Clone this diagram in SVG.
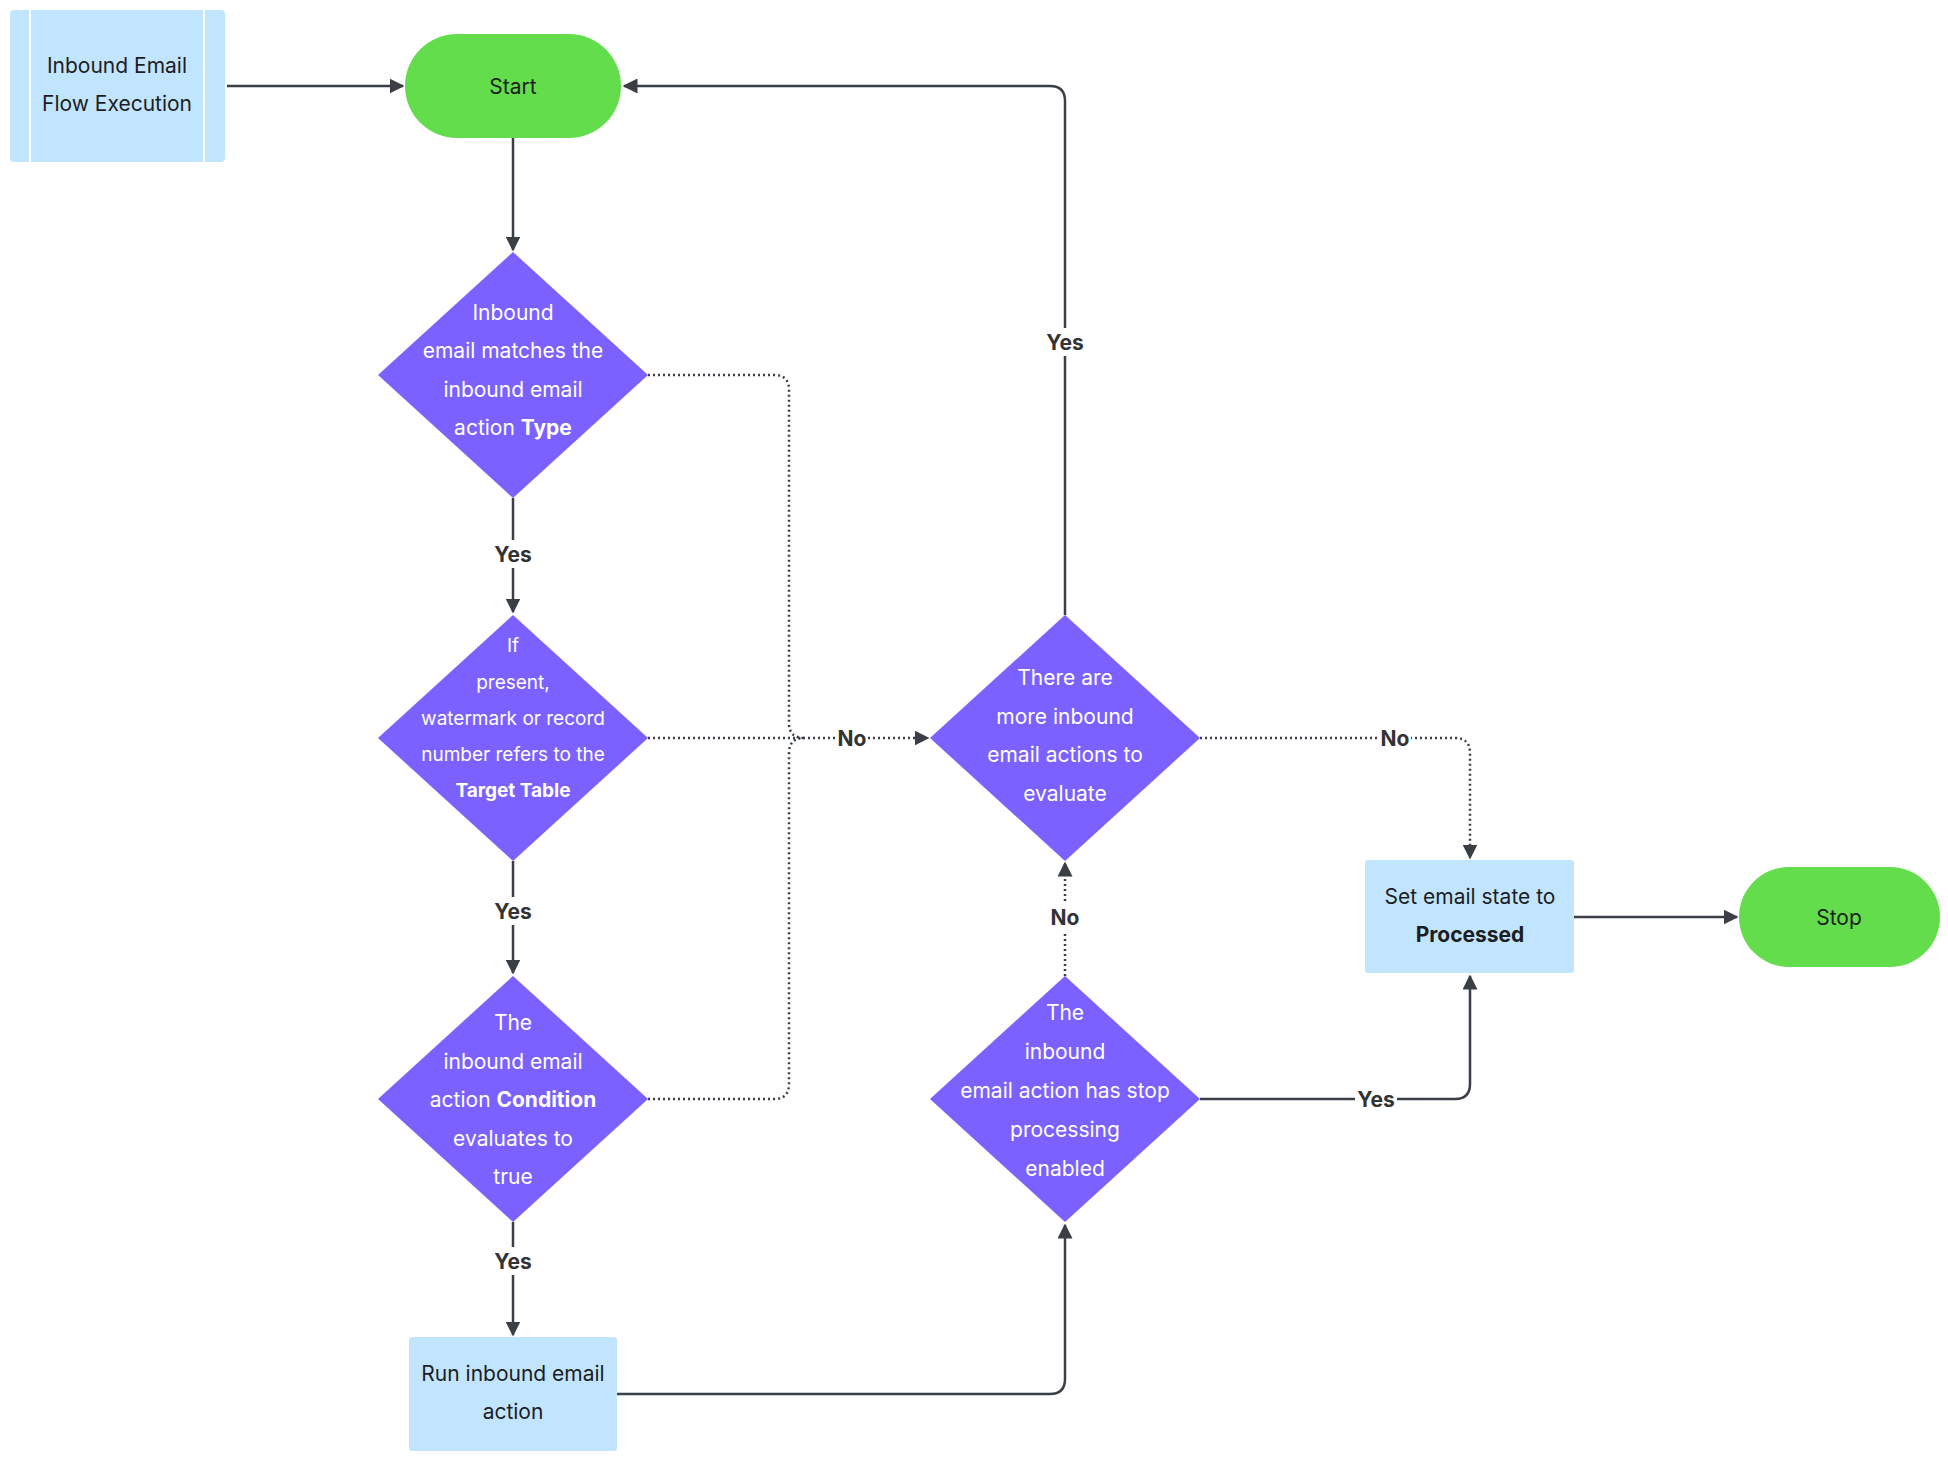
<svg xmlns="http://www.w3.org/2000/svg" width="1948" height="1462" viewBox="0 0 1948 1462">
<style>
text{font-family:Inter,"Liberation Sans",sans-serif;font-size:21px;text-anchor:middle;dominant-baseline:central}
.w{fill:#fff}.d{fill:#1d1d1f}.b{font-weight:700}
.lbl{font-weight:700;fill:#333;font-size:21px}
.c{fill:none;stroke:#3a3f47;stroke-width:2.5}
.dot{stroke-dasharray:2 3}
.dia{fill:#7b61ff}.term{fill:#63dd4c}.box{fill:#c2e5ff}
</style>
<defs><marker id="a" viewBox="0 0 10 10" refX="9" refY="5" markerWidth="6" markerHeight="6" orient="auto"><path d="M0,0L10,5L0,10z" fill="#3a3f47"/></marker></defs>
<g id="connectors">
<path class="c" d="M227,86H403" marker-end="url(#a)"/>
<path class="c" d="M513,138V250" marker-end="url(#a)"/>
<path class="c" d="M513,498V612" marker-end="url(#a)"/>
<path class="c" d="M513,861V973" marker-end="url(#a)"/>
<path class="c" d="M513,1222V1335" marker-end="url(#a)"/>
<path class="c dot" d="M648,375H774Q789,375 789,390V723Q789,738 804,738"/>
<path class="c dot" d="M648,1099H774Q789,1099 789,1084V753Q789,738 804,738"/>
<path class="c dot" d="M648,738H928" marker-end="url(#a)"/>
<path class="c" d="M1065,615V101Q1065,86 1050,86H624" marker-end="url(#a)"/>
<path class="c dot" d="M1200,738H1455Q1470,738 1470,753V858" marker-end="url(#a)"/>
<path class="c dot" d="M1065,976V863" marker-end="url(#a)"/>
<path class="c" d="M1200,1099H1455Q1470,1099 1470,1084V976" marker-end="url(#a)"/>
<path class="c" d="M617,1394H1050Q1065,1394 1065,1379V1225" marker-end="url(#a)"/>
<path class="c" d="M1574,917H1737" marker-end="url(#a)"/>
<g>
<rect x="492" y="540" width="42" height="28" fill="#fff"/><text class="lbl" x="513" y="554">Yes</text>
<rect x="492" y="897" width="42" height="28" fill="#fff"/><text class="lbl" x="513" y="911">Yes</text>
<rect x="492" y="1247" width="42" height="28" fill="#fff"/><text class="lbl" x="513" y="1261">Yes</text>
<rect x="836" y="724" width="32" height="28" fill="#fff"/><text class="lbl" x="852" y="738">No</text>
<rect x="1044" y="328" width="42" height="28" fill="#fff"/><text class="lbl" x="1065" y="342">Yes</text>
<rect x="1379" y="724" width="32" height="28" fill="#fff"/><text class="lbl" x="1395" y="738">No</text>
<rect x="1049" y="903" width="32" height="28" fill="#fff"/><text class="lbl" x="1065" y="917">No</text>
<rect x="1355" y="1085" width="42" height="28" fill="#fff"/><text class="lbl" x="1376" y="1099">Yes</text>
</g>
</g>
<g id="flow-exec"><rect class="box" x="10" y="10" width="215" height="152" rx="4"/><path d="M30,10V162M204,10V162" stroke="#fff" stroke-width="2"/>
<text class="d" x="117" y="65">Inbound Email</text><text class="d" x="117" y="103">Flow Execution</text></g>
<g id="start"><rect class="term" x="405" y="34" width="216" height="104" rx="52"/><text class="d" x="513" y="86">Start</text></g>
<g id="d1"><path class="dia" d="M513,252L648,375L513,498L378,375z"/>
<text class="w" x="513" y="312">Inbound</text><text class="w" x="513" y="350">email matches the</text><text class="w" x="513" y="389">inbound email</text><text class="w" x="513" y="427">action <tspan class="b">Type</tspan></text></g>
<g id="d2"><path class="dia" d="M513,615L648,738L513,861L378,738z"/>
<text class="w" x="513" y="645" style="font-size:19px">If</text><text class="w" x="513" y="682" style="font-size:19px">present,</text><text class="w" x="513" y="718" style="font-size:19px">watermark or record</text><text class="w" x="513" y="754" style="font-size:19px">number refers to the</text><text class="w b" x="513" y="790" style="font-size:19px">Target Table</text></g>
<g id="d3"><path class="dia" d="M513,976L648,1099L513,1222L378,1099z"/>
<text class="w" x="513" y="1022">The</text><text class="w" x="513" y="1061">inbound email</text><text class="w" x="513" y="1099">action <tspan class="b">Condition</tspan></text><text class="w" x="513" y="1138">evaluates to</text><text class="w" x="513" y="1176">true</text></g>
<g id="run"><rect class="box" x="409" y="1337" width="208" height="114" rx="3"/><text class="d" x="513" y="1373">Run inbound email</text><text class="d" x="513" y="1411">action</text></g>
<g id="d4"><path class="dia" d="M1065,615L1200,738L1065,861L930,738z"/>
<text class="w" x="1065" y="677">There are</text><text class="w" x="1065" y="716">more inbound</text><text class="w" x="1065" y="754">email actions to</text><text class="w" x="1065" y="793">evaluate</text></g>
<g id="d5"><path class="dia" d="M1065,976L1200,1099L1065,1222L930,1099z"/>
<text class="w" x="1065" y="1012">The</text><text class="w" x="1065" y="1051">inbound</text><text class="w" x="1065" y="1090">email action has stop</text><text class="w" x="1065" y="1129">processing</text><text class="w" x="1065" y="1168">enabled</text></g>
<g id="processed"><rect class="box" x="1365" y="860" width="209" height="113" rx="3"/><text class="d" x="1470" y="896">Set email state to</text><text class="d b" x="1470" y="934">Processed</text></g>
<g id="stop"><rect class="term" x="1739" y="867" width="201" height="100" rx="50"/><text class="d" x="1839" y="917">Stop</text></g>
</svg>
